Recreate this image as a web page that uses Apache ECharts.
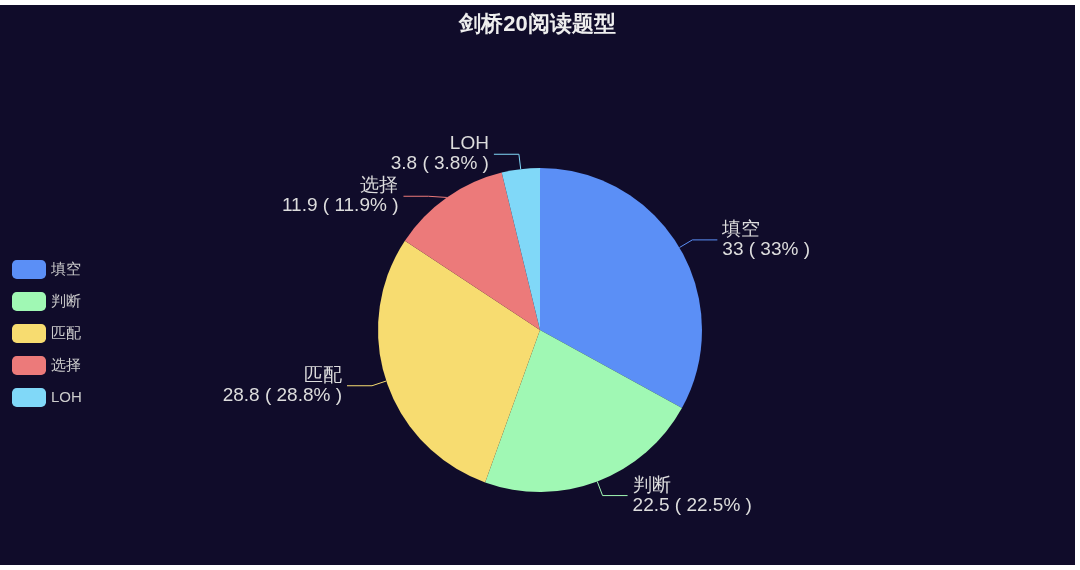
<!DOCTYPE html>
<html><head><meta charset="utf-8">
<script src="https://cdn.jsdelivr.net/npm/echarts@6/dist/echarts.min.js"></script>
<style>html,body{margin:0;padding:0;background:#fff;}#c{position:absolute;left:0;top:5px;width:1075px;height:560px;}</style>
</head><body><div id="c"></div>
<script>
const categories=['填空','判断','匹配','选择','LOH'];
const values=[33,22.5,28.8,11.9,3.8];
const colors=['#5b8ff6','#a0f8b4','#f7dc70','#ec7a7a','#80d8f8'];
const chart=echarts.init(document.getElementById('c'));
chart.setOption({
 backgroundColor:'#100c2a',
 color:colors,
 title:{text:'剑桥20阅读题型',left:'center',top:4,textStyle:{color:'#eee',fontSize:22,fontWeight:'bold'}},
 legend:{orient:'vertical',left:7,top:250,itemWidth:34,itemHeight:19,itemGap:13,icon:'roundRect',textStyle:{color:'#ccc',fontSize:15},data:categories},
 series:[{type:'pie',center:[540,325],radius:162,
  data:categories.map((n,i)=>({name:n,value:values[i]})),
  label:{formatter:'{b}\n{c} ( {d}% )',color:'#ddd',fontSize:19,lineHeight:20},
  labelLine:{length:15,length2:25},
  itemStyle:{borderWidth:0}
 }]
});
</script></body></html>
